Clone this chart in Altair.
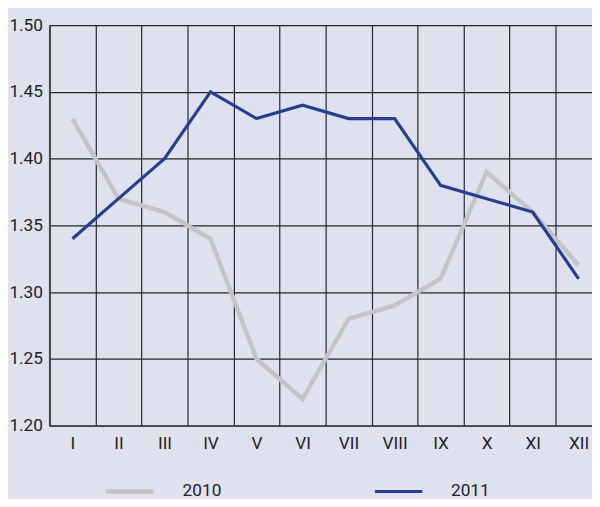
import altair as alt
import pandas as pd

months = ["I", "II", "III", "IV", "V", "VI", "VII", "VIII", "IX", "X", "XI", "XII"]
rate_2010 = [1.43, 1.37, 1.36, 1.34, 1.25, 1.22, 1.28, 1.29, 1.31, 1.39, 1.36, 1.32]
rate_2011 = [1.34, 1.37, 1.40, 1.45, 1.43, 1.44, 1.43, 1.43, 1.38, 1.37, 1.36, 1.31]
years = ["2010", "2011"]
y_ticks = [1.20, 1.25, 1.30, 1.35, 1.40, 1.45, 1.50]

rows = []
for year, series in zip(years, [rate_2010, rate_2011]):
    for i, (m, v) in enumerate(zip(months, series)):
        rows.append({"idx": i + 1, "month": m, "year": year, "rate": v})
df = pd.DataFrame(rows)

FONT = "Roboto, Liberation Sans, sans-serif"
FS = 17.5
x_values = [k / 2 for k in range(1, 2 * len(months) + 1)]
roman_js = "[" + ",".join("'" + m + "'" for m in months) + "]"
label_expr = "floor(datum.value) === datum.value ? " + roman_js + "[datum.value - 1] : ''"
grid_test = "floor(datum.value) !== datum.value"

chart = alt.Chart(df).mark_line(strokeCap="butt", strokeJoin="miter").encode(
    x=alt.X(
        "idx:Q",
        scale=alt.Scale(domain=[0.5, 12.29], nice=False, zero=False),
        axis=alt.Axis(
            values=x_values,
            labelExpr=label_expr,
            title=None,
            ticks=False,
            labelPadding=9,
            labelOverlap=False,
            labelFlush=False,
            grid=True,
            gridColor="#262626",
            gridWidth=1.2,
            gridOpacity={"condition": {"test": grid_test, "value": 1}, "value": 0},
            domainColor="#444",
            domainWidth=2,
        ),
    ),
    y=alt.Y(
        "rate:Q",
        scale=alt.Scale(domain=[1.2, 1.5], nice=False, zero=False),
        axis=alt.Axis(
            values=y_ticks,
            format=".2f",
            title=None,
            ticks=False,
            labelPadding=7,
            grid=True,
            gridColor="#262626",
            gridWidth=1.2,
            domainColor="#444",
            domainWidth=2,
        ),
    ),
    color=alt.Color(
        "year:N",
        scale=alt.Scale(domain=years, range=["#c4c4c4", "#243f92"]),
        legend=alt.Legend(
            title=None,
            orient="none",
            legendX=55,
            legendY=446,
            direction="horizontal",
            symbolType="stroke",
            symbolSize=2304,
            symbolStrokeWidth=4,
            labelOffset=27,
            columnPadding=148,
            labelFontSize=FS,
            labelFont=FONT,
            labelColor="#222",
            padding=0,
        ),
    ),
    strokeWidth=alt.StrokeWidth(
        "year:N", scale=alt.Scale(domain=years, range=[4.5, 3.2]), legend=None
    ),
    order=alt.Order("idx:Q"),
).properties(
    width=550,
    height=406,
    padding={"left": 42, "top": 14, "right": 0, "bottom": 71},
    autosize=alt.AutoSizeParams(type="none"),
    background="#dfe1ef",
).configure_view(stroke=None).configure_axis(
    labelFont=FONT, labelFontSize=FS, labelColor="#222"
)

chart.save("out.html", embed_options={"renderer": "svg", "actions": False})
